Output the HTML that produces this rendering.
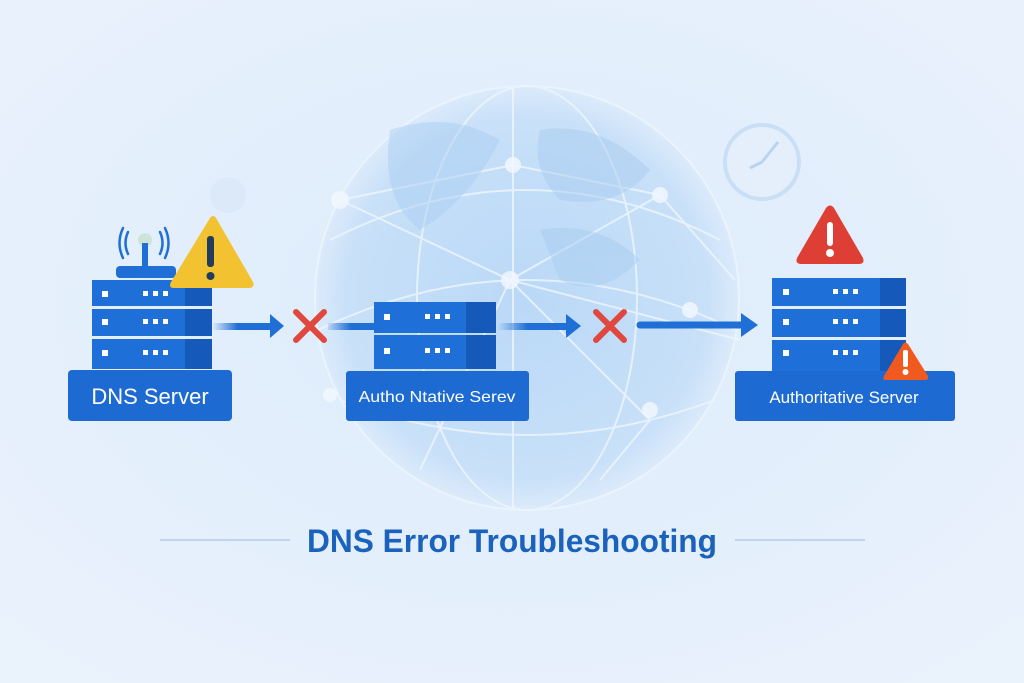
<!DOCTYPE html>
<html><head><meta charset="utf-8"><style>
html,body{margin:0;padding:0;width:1024px;height:683px;overflow:hidden;background:#e8f1fc}
svg{display:block}
text{font-family:"Liberation Sans",sans-serif}
</style></head><body>
<svg width="1024" height="683" viewBox="0 0 1024 683" xmlns="http://www.w3.org/2000/svg">
<defs>
<radialGradient id="bg" cx="0.5" cy="0.45" r="0.7">
<stop offset="0" stop-color="#dcebfb"/><stop offset="1" stop-color="#eaf2fc"/>
</radialGradient>
<radialGradient id="gl" cx="0.5" cy="0.5" r="0.5">
<stop offset="0" stop-color="#b4d5f6"/><stop offset="0.85" stop-color="#c4def8"/><stop offset="1" stop-color="#dbeafb"/>
</radialGradient>
<linearGradient id="fade1" x1="0" x2="1" y1="0" y2="0"><stop offset="0" stop-color="#1f6fd6" stop-opacity="0"/><stop offset="0.4" stop-color="#1f6fd6"/></linearGradient>
<linearGradient id="fade2" x1="0" x2="1" y1="0" y2="0"><stop offset="0" stop-color="#1f6fd6" stop-opacity="0.15"/><stop offset="0.5" stop-color="#1f6fd6"/></linearGradient>
</defs>
<rect width="1024" height="683" fill="url(#bg)"/>
<!-- globe -->
<circle cx="527" cy="298" r="212" fill="url(#gl)" opacity="0.85"/>
<g fill="none" stroke="#eef6fe" stroke-width="2" opacity="0.8">
<ellipse cx="527" cy="298" rx="212" ry="212"/>
<ellipse cx="527" cy="298" rx="110" ry="212"/>
<line x1="513" y1="88" x2="513" y2="508"/>
<path d="M330 240 Q527 140 720 240"/>
<path d="M318 330 Q527 230 736 330"/>
<path d="M340 400 Q527 470 715 400"/>
<path d="M340 200 L513 165 L660 195 L735 280"/>
<path d="M340 200 L510 280 L740 340"/>
<path d="M510 280 L650 420 L600 480"/>
<path d="M660 195 L510 280 L420 470"/>
</g>
<g fill="#f2f8ff" opacity="0.8">
<circle cx="513" cy="165" r="8"/><circle cx="340" cy="200" r="9"/><circle cx="660" cy="195" r="8"/>
<circle cx="510" cy="280" r="9"/><circle cx="690" cy="310" r="8"/><circle cx="650" cy="410" r="8"/>
<circle cx="330" cy="395" r="7"/>
</g>
<g fill="#a9cdf2" opacity="0.5">
<path d="M390 130 Q450 110 500 140 Q470 200 420 230 Q380 200 390 130Z"/>
<path d="M540 130 Q600 120 650 170 Q620 210 560 200 Q530 170 540 130Z"/>
<path d="M540 230 Q600 220 640 260 Q600 300 560 280Z"/>
</g>
<!-- clock -->
<circle cx="762" cy="162" r="37" fill="#e4effb" stroke="#c9dff5" stroke-width="4"/>
<path d="M762 162 L778 142 M762 162 L750 168" stroke="#b8d4f0" stroke-width="3" fill="none"/>
<circle cx="228" cy="195" r="18" fill="#dbe9f9"/>
<!-- connectors -->
<rect x="212" y="323" width="64" height="7" fill="url(#fade1)"/>
<polygon points="270,314 284,326 270,338" fill="#1f6fd6"/>
<rect x="328" y="323" width="46" height="7" fill="url(#fade2)"/>
<rect x="498" y="323" width="74" height="7" fill="url(#fade1)"/>
<polygon points="566,314 581,326 566,338" fill="#1f6fd6"/>
<line x1="640" y1="325" x2="744" y2="325" stroke="#1f6fd6" stroke-width="7" stroke-linecap="round"/>
<polygon points="741,313 758,325 741,337" fill="#1f6fd6"/>
<g stroke="#e0473f" stroke-width="6" stroke-linecap="round">
<path d="M296 312 L324 340 M324 312 L296 340"/>
<path d="M596 312 L624 340 M624 312 L596 340"/>
</g>
<!-- DNS server -->
<g fill="none" stroke="#1f6fd6" stroke-width="2.5" stroke-linecap="round">
<path d="M128 232 Q123 243 128 254"/><path d="M123 228 Q116 243 123 258"/>
<path d="M160 232 Q165 243 160 254"/><path d="M165 228 Q172 243 165 258"/>
</g>
<circle cx="145" cy="240" r="7" fill="#cfe4d8"/>
<rect x="142" y="243" width="6" height="25" fill="#1f6fd6"/>
<rect x="116" y="266" width="60" height="12" rx="4" fill="#1f6fd6"/>
<g>
<rect x="92" y="280" width="120" height="26" fill="#1e6fd8"/><rect x="185" y="280" width="27" height="26" fill="#1559bb"/>
<rect x="92" y="309" width="120" height="27" fill="#1e6fd8"/><rect x="185" y="309" width="27" height="27" fill="#1559bb"/>
<rect x="92" y="339" width="120" height="30" fill="#1e6fd8"/><rect x="185" y="339" width="27" height="30" fill="#1559bb"/>
</g>
<g fill="#fff">
<rect x="102" y="291" width="6" height="6"/><rect x="143" y="291" width="5" height="5"/><rect x="153" y="291" width="5" height="5"/><rect x="163" y="291" width="5" height="5"/>
<rect x="102" y="319" width="6" height="6"/><rect x="143" y="319" width="5" height="5"/><rect x="153" y="319" width="5" height="5"/><rect x="163" y="319" width="5" height="5"/>
<rect x="102" y="350" width="6" height="6"/><rect x="143" y="350" width="5" height="5"/><rect x="153" y="350" width="5" height="5"/><rect x="163" y="350" width="5" height="5"/>
</g>
<rect x="68" y="370" width="164" height="51" rx="4" fill="#1c6ad2"/>
<text x="150" y="404" font-size="22" fill="#fff" text-anchor="middle">DNS Server</text>
<path d="M210 218 Q213 214 216 218 L253 282 Q255 288 249 288 L174 288 Q168 288 171 282Z" fill="#f2c230"/>
<rect x="207" y="236" width="7" height="31" rx="3" fill="#223c5c"/><circle cx="210.5" cy="276" r="4" fill="#223c5c"/>
<!-- middle server -->
<rect x="374" y="302" width="122" height="31" fill="#1e6fd8"/><rect x="466" y="302" width="30" height="31" fill="#1559bb"/>
<rect x="374" y="335" width="122" height="34" fill="#1e6fd8"/><rect x="466" y="335" width="30" height="34" fill="#1559bb"/>
<g fill="#fff">
<rect x="384" y="314" width="6" height="6"/><rect x="425" y="314" width="5" height="5"/><rect x="435" y="314" width="5" height="5"/><rect x="445" y="314" width="5" height="5"/>
<rect x="384" y="348" width="6" height="6"/><rect x="425" y="348" width="5" height="5"/><rect x="435" y="348" width="5" height="5"/><rect x="445" y="348" width="5" height="5"/>
</g>
<rect x="346" y="371" width="183" height="50" rx="3" fill="#1c6ad2"/>
<text x="437" y="402" font-size="16" fill="#fff" text-anchor="middle" textLength="157" lengthAdjust="spacingAndGlyphs">Autho Ntative Serev</text>
<!-- right server -->
<rect x="772" y="278" width="134" height="28" fill="#1e6fd8"/><rect x="880" y="278" width="26" height="28" fill="#1559bb"/>
<rect x="772" y="309" width="134" height="28" fill="#1e6fd8"/><rect x="880" y="309" width="26" height="28" fill="#1559bb"/>
<rect x="772" y="340" width="134" height="31" fill="#1e6fd8"/><rect x="880" y="340" width="26" height="31" fill="#1559bb"/>
<g fill="#fff">
<rect x="783" y="289" width="6" height="6"/><rect x="833" y="289" width="5" height="5"/><rect x="843" y="289" width="5" height="5"/><rect x="853" y="289" width="5" height="5"/>
<rect x="783" y="319" width="6" height="6"/><rect x="833" y="319" width="5" height="5"/><rect x="843" y="319" width="5" height="5"/><rect x="853" y="319" width="5" height="5"/>
<rect x="783" y="350" width="6" height="6"/><rect x="833" y="350" width="5" height="5"/><rect x="843" y="350" width="5" height="5"/><rect x="853" y="350" width="5" height="5"/>
</g>
<rect x="735" y="371" width="220" height="50" rx="3" fill="#1c6ad2"/>
<text x="844" y="403" font-size="17" fill="#fff" text-anchor="middle">Authoritative Server</text>
<path d="M826 208 Q830 203 834 208 L863 258 Q865 264 859 264 L801 264 Q795 264 797 258Z" fill="#dd3f35"/>
<rect x="827" y="222" width="6" height="24" rx="3" fill="#fff"/><circle cx="830" cy="253" r="4" fill="#fff"/>
<path d="M903 344 Q905 341 908 344 L928 376 Q929 380 925 380 L886 380 Q882 380 884 376Z" fill="#f05a1e"/>
<rect x="903" y="350" width="5" height="17" rx="2" fill="#fff"/><circle cx="905.5" cy="372" r="3" fill="#fff"/>
<!-- title -->
<line x1="160" y1="540" x2="290" y2="540" stroke="#bcd6f2" stroke-width="2"/>
<line x1="735" y1="540" x2="865" y2="540" stroke="#bcd6f2" stroke-width="2"/>
<text x="512" y="552" font-size="32" font-weight="bold" fill="#1a62bb" text-anchor="middle" textLength="410" lengthAdjust="spacingAndGlyphs">DNS Error Troubleshooting</text>
</svg>
</body></html>
